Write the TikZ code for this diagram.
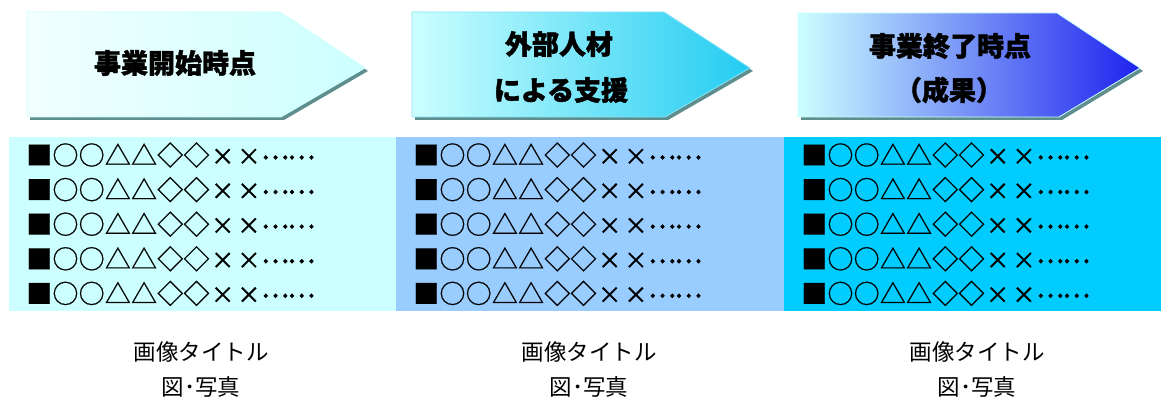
\documentclass[tikz,border=0pt]{standalone}
\usepackage{fontspec}
\setmainfont{Noto Sans CJK JP}
\newfontfamily\titlefont[BoldFeatures={FakeBold=1.5}]{Noto Sans CJK JP}
\newfontfamily\symfont[FakeBold=0.6]{Noto Sans CJK JP}
\newfontfamily\crossfont[FakeBold=1.2]{Noto Sans CJK JP}
\newfontfamily\dotfont[FakeBold=3]{Noto Sans CJK JP}
\definecolor{boxA}{HTML}{CCFFFF}
\definecolor{boxB}{HTML}{99CCFF}
\definecolor{boxC}{HTML}{00CCFF}
\definecolor{shadowc}{HTML}{5E8E8E}
\definecolor{arrA}{HTML}{F2FFFF}
\definecolor{arrB}{HTML}{CCFFFF}
\definecolor{arrC}{HTML}{22CCF2}
\definecolor{arrD}{HTML}{99BBFF}
\definecolor{arrE}{HTML}{1F22EE}
\definecolor{edgec}{HTML}{88E4F4}
\newcommand\glyphbox[1]{\makebox[26.2pt][c]{#1}}
\newcommand\smallcross{{\crossfont\fontsize{23}{26}\selectfont ×}}
\newcommand\bolddots{\raisebox{6pt}{\dotfont\fontsize{26}{30}\selectfont …}}
\newcommand\symrow{\glyphbox{■}\glyphbox{○}\glyphbox{○}\glyphbox{△}\glyphbox{△}\glyphbox{◇}\glyphbox{◇}\glyphbox{\smallcross}\glyphbox{\smallcross}\glyphbox{\bolddots}\glyphbox{\bolddots}}
\tikzset{
  panel/.style={anchor=north west, inner sep=0pt, minimum height=174pt, draw=none},
  listtext/.style={anchor=west, inner sep=0pt, font=\symfont\fontsize{26}{30}\selectfont},
  titletext/.style={inner sep=0pt, font=\titlefont\fontsize{27}{32}\selectfont\bfseries},
  captext/.style={inner sep=0pt, align=center, font=\fontsize{22.5}{35}\selectfont},
  arrowedge/.style={draw=edgec, line width=0.8pt}
}
\begin{document}
\begin{tikzpicture}[x=1pt,y=-1pt]
\useasboundingbox (0,0) rectangle (1161,398);
% shadows
\fill[shadowc, shift={(3,3)}] (27,12) -- (280,12) -- (365,68) -- (281,117) -- (27,117) -- cycle;
\fill[shadowc, shift={(3,3)}] (412,12) -- (664,12) -- (750,68) -- (665,117) -- (412,117) -- cycle;
\fill[shadowc, shift={(3,3)}] (798,13) -- (1057,13) -- (1140,68) -- (1059,117) -- (798,117) -- cycle;
% arrows
\shade[left color=arrA, right color=arrB] (27,12) -- (280,12) -- (365,68) -- (281,117) -- (27,117) -- cycle;
\draw[draw=boxA, line width=0.8pt] (27,12) -- (280,12) -- (365,68) -- (281,117) -- (27,117) -- cycle;
\shade[left color=arrB, right color=arrC] (412,12) -- (664,12) -- (750,68) -- (665,117) -- (412,117) -- cycle;
\draw[arrowedge] (412,12) -- (664,12) -- (750,68) -- (665,117) -- (412,117) -- cycle;
\shade[left color=arrB, middle color=arrD, right color=arrE] (798,13) -- (1057,13) -- (1140,68) -- (1059,117) -- (798,117) -- cycle;
\draw[draw=arrB, line width=0.8pt] (798,13) -- (1057,13) -- (1140,68) -- (1059,117) -- (798,117) -- cycle;
% titles
\node[titletext] (t1) at (175,63) {事業開始時点};
\node[titletext] (t2a) at (559,44) {外部人材};
\node[titletext] (t2b) at (561,90) {による支援};
\node[titletext] (t3a) at (950,46) {事業終了時点};
\node[titletext] (t3b) at (949,90) {（成果）};
% panels
\node[panel, fill=boxA, minimum width=387pt] (p1) at (9,137) {};
\node[panel, fill=boxB, minimum width=388pt] (p2) at (396,137) {};
\node[panel, fill=boxC, minimum width=377pt] (p3) at (784,137) {};
% lists
\foreach \i in {0,...,4}{
  \node[listtext] (la\i) at (26,155+34.6*\i) {\symrow};
  \node[listtext] (lb\i) at (413,155+34.6*\i) {\symrow};
  \node[listtext] (lc\i) at (801,155+34.6*\i) {\symrow};
}
% captions
\node[captext] (c1) at (201,369) {画像タイトル\\図･写真};
\node[captext] (c2) at (589,369) {画像タイトル\\図･写真};
\node[captext] (c3) at (977,369) {画像タイトル\\図･写真};
\end{tikzpicture}
\end{document}
